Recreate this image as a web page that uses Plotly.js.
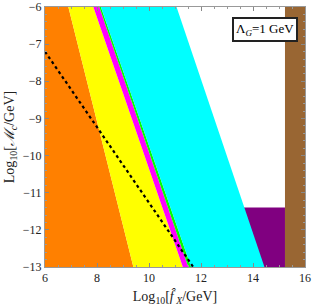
<!DOCTYPE html>
<html><head><meta charset="utf-8">
<script src="https://cdn.plot.ly/plotly-3.0.1.min.js"></script>
<style>body{margin:0;background:#fff}#c{width:312px;height:307px}</style>
</head><body><div id="c"></div><script>
// boundary lines given as x at y = top (-6) and y = bottom (-13)
const yEnds = [-6, -13];
const orangeYellowX = [6.90, 9.40];
const yellowMagentaX = [7.86, 11.30];
const magentaGreenX = [8.09, 11.51];
const greenCyanX = [8.15, 11.62];
const cyanWhiteX = [11.06, 14.44];
const purpleX = [13.5, 15.23];
const purpleY = [-13, -11.4];
const brownX = [15.23, 16];
const dottedX = [6, 11.7];
const dottedY = [-7.2, -13];
const xMin = 6, xMax = 16, yMin = -13, yMax = -6;

function band(leftX, rightX, color){
  return {x:[leftX[0], rightX[0], rightX[1], leftX[1], leftX[0]],
          y:[yEnds[0], yEnds[0], yEnds[1], yEnds[1], yEnds[0]],
          type:'scatter', mode:'lines', fill:'toself', fillcolor:color,
          line:{width:0, color:color}, hoverinfo:'skip', showlegend:false};
}
const left = [xMin, xMin];
const traces = [
  {x:[purpleX[0],purpleX[1],purpleX[1],purpleX[0],purpleX[0]], y:[purpleY[0],purpleY[0],purpleY[1],purpleY[1],purpleY[0]],
   type:'scatter', mode:'lines', fill:'toself', fillcolor:'#800080', line:{width:0,color:'#800080'}, showlegend:false},
  band(left, orangeYellowX, '#FF8000'),
  band(orangeYellowX, yellowMagentaX, '#FFFF00'),
  band(yellowMagentaX, magentaGreenX, '#FF00FF'),
  band(magentaGreenX, greenCyanX, '#00FF00'),
  band(greenCyanX, cyanWhiteX, '#00FFFF'),
  {x:[brownX[0],brownX[1],brownX[1],brownX[0],brownX[0]], y:[yMax,yMax,yMin,yMin,yMax],
   type:'scatter', mode:'lines', fill:'toself', fillcolor:'#996633', line:{width:0,color:'#996633'}, showlegend:false},
  {x:dottedX, y:dottedY, type:'scatter', mode:'lines', line:{color:'#000', width:2.2, dash:'dot'}, showlegend:false}
];
const fontS = {family:'Liberation Serif, Times New Roman, serif', size:12, color:'#222'};
const axBase = {showgrid:false, zeroline:false, ticks:'inside', ticklen:4, tickcolor:'#888', mirror:'allticks',
  showline:true, linecolor:'#999', linewidth:1, tickfont:fontS};
const layout = {
  width:312, height:307, margin:{l:45, r:7, t:7, b:40},
  paper_bgcolor:'#fff', plot_bgcolor:'#fff', showlegend:false,
  font:fontS,
  xaxis:Object.assign({}, axBase, {range:[xMin,xMax], tickvals:[6,8,10,12,14,16], ticktext:['6','8','10','12','14','16'],
    minor:{ticks:'inside', dtick:0.5, ticklen:2, tickcolor:'#999'},
    title:{text:'Log<sub>10</sub>[<i>f̂</i><sub> <i>X</i></sub>/GeV]', font:{family:'Liberation Serif, serif', size:14, color:'#222'}, standoff:6}}),
  yaxis:Object.assign({}, axBase, {range:[yMin,yMax], tickvals:[-13,-12,-11,-10,-9,-8,-7,-6],
    ticktext:['−13','−12','−11','−10','−9','−8','−7','−6'],
    minor:{ticks:'inside', dtick:0.2, ticklen:2, tickcolor:'#999'},
    title:{text:'Log<sub>10</sub>[<i>ℳ</i><sub><i>c</i></sub>/GeV]', font:{family:'Liberation Serif, DejaVu Serif, serif', size:14, color:'#222'}, standoff:4}}),
  annotations:[{xref:'paper', yref:'paper', x:0.972, y:0.962, xanchor:'right', yanchor:'top', showarrow:false,
    text:'Λ<sub><i>G</i></sub>=1 GeV', font:{family:'Liberation Serif, serif', size:13, color:'#000'},
    bgcolor:'#fff', bordercolor:'#222', borderwidth:2, borderpad:2}]
};
Plotly.newPlot('c', traces, layout, {displayModeBar:false, staticPlot:true});
</script></body></html>
